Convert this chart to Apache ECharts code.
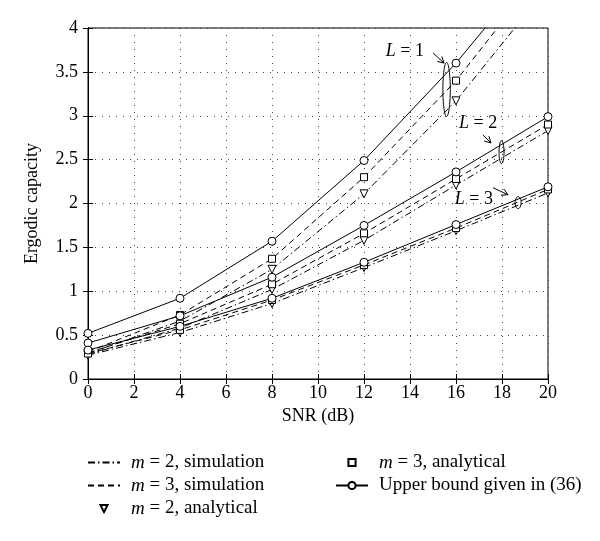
<!DOCTYPE html>
<html>
<head>
<meta charset="utf-8">
<script src="https://cdn.jsdelivr.net/npm/echarts@6/dist/echarts.min.js"></script>
<style>
html, body { margin: 0; padding: 0; background: #fff; }
#chart { width: 600px; height: 541px; }
</style>
</head>
<body>
<div id="chart"></div>
<script>
// SNR points (dB)
const snr = [0, 4, 8, 12, 16, 20];

// upper bound (36)
const upperL1 = [0.52, 0.92, 1.57, 2.49, 3.60, 4.87];
const upperL2 = [0.41, 0.72, 1.16, 1.75, 2.36, 2.99];
const upperL3 = [0.33, 0.60, 0.92, 1.33, 1.76, 2.19];

// m = 3 (analytical markers, simulation dashed line)
const m3L1 = [0.31, 0.73, 1.37, 2.30, 3.40, 4.73];
const m3L2 = [0.30, 0.63, 1.08, 1.66, 2.28, 2.90];
const m3L3 = [0.29, 0.56, 0.90, 1.30, 1.72, 2.16];

// m = 2 (analytical markers, simulation dash-dot line)
const m2L1 = [0.29, 0.66, 1.25, 2.11, 3.17, 4.47];
const m2L2 = [0.28, 0.58, 1.02, 1.58, 2.21, 2.83];
const m2L3 = [0.27, 0.53, 0.86, 1.27, 1.69, 2.12];

// L annotations (data coords)
const noteLabels = ['L = 1', 'L = 2', 'L = 3'];
const noteTextAt = [[13.78, 3.73], [16.96, 2.91], [16.78, 2.045]];
const noteArrowFrom = [[15.0, 3.716], [17.17, 2.78], [17.61, 2.18]];
const noteArrowTo = [[15.48, 3.60], [17.52, 2.69], [18.26, 2.10]];
const noteRingAt = [[15.59, 3.30], [17.98, 2.585], [18.70, 2.01]];

const FONT = 'Liberation Serif';
const names = {
  m2sim: 'm = 2, simulation',
  m3sim: 'm = 3, simulation',
  m2ana: 'm = 2, analytical',
  m3ana: 'm = 3, analytical',
  upper: 'Upper bound given in (36)'
};

function pts(arr) {
  return snr.map((x, i) => [x, arr[i]]);
}

let hollow = { color: '#fff', borderColor: '#000', borderWidth: 1 };
let series = [];
[[upperL1, m3L1, m2L1], [upperL2, m3L2, m2L2], [upperL3, m3L3, m2L3]].forEach(function (g) {
  series.push({
    name: names.m2sim, type: 'line', data: pts(g[2]), symbol: 'none',
    lineStyle: { color: '#000', width: 1, type: [7, 3, 1.5, 3] }, itemStyle: { color: '#000' }
  });
  series.push({
    name: names.m3sim, type: 'line', data: pts(g[1]), symbol: 'none',
    lineStyle: { color: '#000', width: 1, type: [6, 4] }, itemStyle: { color: '#000' }
  });
  // analytical values: markers only
  series.push({
    name: names.m2ana, type: 'line', data: pts(g[2]), symbol: 'triangle', symbolRotate: 180,
    symbolSize: 8, lineStyle: { opacity: 0 }, itemStyle: hollow
  });
  series.push({
    name: names.m3ana, type: 'line', data: pts(g[1]), symbol: 'rect',
    symbolSize: 7, lineStyle: { opacity: 0 }, itemStyle: hollow
  });
  series.push({
    name: names.upper, type: 'line', data: pts(g[0]), symbol: 'circle', symbolSize: 8,
    lineStyle: { color: '#000', width: 1 }, itemStyle: hollow
  });
});

let chart = echarts.init(document.getElementById('chart'));

let legendText = {
  fontFamily: FONT, fontSize: 19, color: '#000', padding: [0, 0, 0, 6],
  rich: { i: { fontFamily: FONT, fontSize: 19, fontStyle: 'italic', color: '#000' } }
};
function legendFmt(n) {
  return n.replace(/^m/, '{i|m}');
}
let hideDot = { opacity: 0 };

chart.setOption({
  animation: false,
  textStyle: { fontFamily: FONT },
  grid: { left: 88, right: 52, top: 28, bottom: 162, show: true, borderColor: '#000', borderWidth: 1 },
  legend: [
    {
      orient: 'vertical', left: 82, top: 448, itemWidth: 32, itemHeight: 9, itemGap: 4,
      data: [
        { name: names.m2sim, itemStyle: hideDot },
        { name: names.m3sim, itemStyle: hideDot },
        names.m2ana
      ],
      formatter: legendFmt, textStyle: legendText
    },
    {
      orient: 'vertical', left: 330, top: 448, itemWidth: 32, itemHeight: 9, itemGap: 4,
      data: [names.m3ana, names.upper],
      formatter: legendFmt, textStyle: legendText
    }
  ],
  xAxis: [
    {
      type: 'value', min: 0, max: 20, interval: 2,
      name: 'SNR (dB)', nameLocation: 'middle', nameGap: 25,
      nameTextStyle: { fontFamily: FONT, fontSize: 18, color: '#000' },
      axisLine: { lineStyle: { color: '#000' } },
      axisTick: { inside: true, length: 5, lineStyle: { color: '#000' } },
      axisLabel: { fontFamily: FONT, fontSize: 18, color: '#000', margin: 5 },
      splitLine: { show: true, lineStyle: { color: '#444', type: [1, 6] } }
    },
    {
      type: 'value', min: 0, max: 20, interval: 2, position: 'top',
      axisLine: { lineStyle: { color: '#000' } },
      axisTick: { inside: true, length: 5, lineStyle: { color: '#000' } },
      axisLabel: { show: false }, splitLine: { show: false }
    }
  ],
  yAxis: [
    {
      type: 'value', min: 0, max: 4, interval: 0.5,
      name: 'Ergodic capacity', nameLocation: 'middle', nameGap: 47,
      nameTextStyle: { fontFamily: FONT, fontSize: 18, color: '#000' },
      axisLine: { show: true, lineStyle: { color: '#000' } },
      axisTick: { show: true, inside: true, length: 5, lineStyle: { color: '#000' } },
      axisLabel: { fontFamily: FONT, fontSize: 18, color: '#000', margin: 10 },
      splitLine: { show: true, lineStyle: { color: '#444', type: [1, 6] } }
    },
    {
      type: 'value', min: 0, max: 4, interval: 0.5, position: 'right',
      axisLine: { show: true, lineStyle: { color: '#000' } },
      axisTick: { show: true, inside: true, length: 5, lineStyle: { color: '#000' } },
      axisLabel: { show: false }, splitLine: { show: false }
    }
  ],
  series: series
});

// annotations: label, arrow and ellipse around each L group
function px(p) {
  return chart.convertToPixel({ gridIndex: 0 }, p);
}
let ringSize = [[3.7, 27], [2.5, 11.5], [3, 6]];
let graphics = [];
noteLabels.forEach(function (lab, k) {
  let t = px(noteTextAt[k]);
  graphics.push({
    type: 'text', x: t[0], y: t[1],
    style: {
      text: lab.replace(/^L/, '{i|L}'), fontFamily: FONT, fontSize: 18, fill: '#000',
      align: 'center', verticalAlign: 'middle',
      rich: { i: { fontFamily: FONT, fontSize: 18, fontStyle: 'italic', color: '#000' } }
    }
  });
  let a = px(noteArrowFrom[k]), b = px(noteArrowTo[k]);
  let ang = Math.atan2(b[1] - a[1], b[0] - a[0]);
  let h = 7;
  graphics.push({
    type: 'polyline', shape: { points: [a, b] }, style: { stroke: '#000', lineWidth: 1, fill: null }
  });
  graphics.push({
    type: 'polyline',
    shape: { points: [
      [b[0] - h * Math.cos(ang - 0.5), b[1] - h * Math.sin(ang - 0.5)],
      b,
      [b[0] - h * Math.cos(ang + 0.5), b[1] - h * Math.sin(ang + 0.5)]
    ] },
    style: { stroke: '#000', lineWidth: 1, fill: null }
  });
  let c = px(noteRingAt[k]);
  graphics.push({
    type: 'ellipse', shape: { cx: c[0], cy: c[1], rx: ringSize[k][0], ry: ringSize[k][1] },
    style: { stroke: '#000', lineWidth: 1, fill: null }
  });
});
chart.setOption({ graphic: graphics });
</script>
</body>
</html>
